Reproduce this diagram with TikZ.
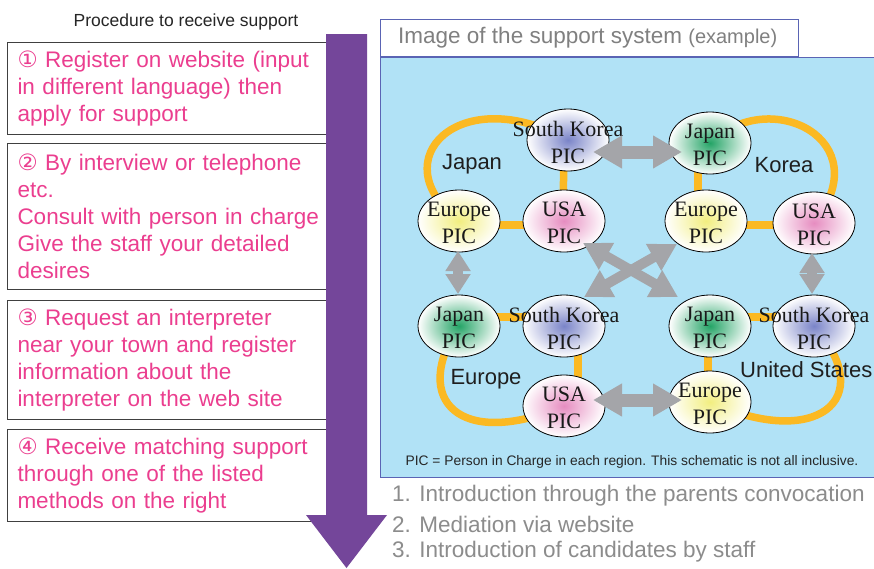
\documentclass[tikz,border=0pt]{standalone}
\usepackage{fontspec}
\setmainfont{Liberation Sans}
\newfontfamily\serifpic{Liberation Serif}
\newfontfamily\symfont{DejaVu Sans}
\usetikzlibrary{shapes.geometric,arrows.meta,calc}
\definecolor{pinktxt}{HTML}{EB3E8F}
\definecolor{purplearr}{HTML}{74469A}
\definecolor{panelblue}{HTML}{B1E2F6}
\definecolor{panelline}{HTML}{5A64B4}
\definecolor{titlegray}{HTML}{808080}
\definecolor{listgray}{HTML}{8C8C8C}
\definecolor{loopgold}{HTML}{FBB923}
\definecolor{arrgray}{HTML}{A4A5A9}
\definecolor{cblue}{HTML}{7A84C8}
\definecolor{cgreen}{HTML}{24A466}
\definecolor{cyellow}{HTML}{F2EE80}
\definecolor{cpink}{HTML}{E68CC0}
\pgfdeclarelayer{panel}
\pgfdeclarelayer{loops}
\pgfsetlayers{panel,loops,main}
\newcommand\circnum[1]{{\symfont #1}}
\newcommand\picnode[5]{%
  \node[picell, inner color=#4] (#1) at (#2,#3) {};
  \node[pictext] (#1t) at ($(#1.center)+(0,2)$) {#5\\PIC};}
\begin{document}
\begin{tikzpicture}[x=1pt,y=-1pt,
  stepbox/.style={draw=black!75, line width=1pt, fill=white, anchor=north west,
    text width=303pt, inner xsep=10pt, inner ysep=0pt, align=left, text=pinktxt,
    font=\fontsize{22.5}{27}\selectfont},
  picell/.style={ellipse, draw=black, line width=0.8pt, minimum width=82pt,
    minimum height=62pt, inner sep=0pt, outer color=white},
  pictext/.style={font=\serifpic\fontsize{22}{27}\selectfont, align=center,
    inner sep=0pt, text=black!90},
  region/.style={font=\fontsize{22}{26}\selectfont, text=black!88, inner sep=0pt},
  loopline/.style={draw=loopgold, line width=7.5pt},
  gbig/.style={draw=arrgray, line width=13pt,
    arrows={Triangle[width=31pt,length=29pt]-Triangle[width=31pt,length=29pt]}},
  gmid/.style={draw=arrgray, line width=10pt,
    arrows={Triangle[width=29pt,length=27pt]-Triangle[width=29pt,length=27pt]}},
  gsmall/.style={draw=arrgray, line width=10pt,
    arrows={Triangle[width=24pt,length=20pt]-Triangle[width=24pt,length=20pt]}},
  listtext/.style={anchor=west, text=listgray, inner sep=0pt,
    font=\fontsize{22.5}{27}\selectfont}]
\useasboundingbox (0,0) rectangle (874,568);
\begin{pgfonlayer}{panel}
  \fill[white] (0,0) rectangle (874,568);
  \fill[panelblue] (380,57) rectangle (874,477);
  \draw[panelline, line width=1pt] (875,57) -- (380,57) -- (380,477) -- (875,477);
\end{pgfonlayer}

% heading
\node[font=\fontsize{17.5}{21}\selectfont, text=black!85, inner sep=0pt] (head) at (186,22) {Procedure to receive support};

% left boxes
\node[stepbox, minimum height=92pt] (box1) at (7,42)
  {\circnum{①} Register on website (input\\in different language) then\\apply for support};
\node[stepbox, minimum height=146pt] (box2) at (7,143)
  {\circnum{②} By interview or telephone\\etc.\\Consult with person in charge\\Give the staff your detailed\\desires};
\node[stepbox, minimum height=119pt] (box3) at (7,300)
  {\circnum{③} Request an interpreter\\near your town and register\\information about the\\interpreter on the web site};
\node[stepbox, minimum height=92pt] (box4) at (7,429)
  {\circnum{④} Receive matching support\\through one of the listed\\methods on the right};

% purple arrow
\fill[purplearr] (326,34) -- (367,34) -- (367,515) -- (387,515) -- (346.5,568) -- (306,515) -- (326,515) -- cycle;

% title box
\node[draw=panelline, line width=0.8pt, fill=white, anchor=north west, minimum width=418pt,
  minimum height=37pt, inner sep=0pt] (title) at (380,19) {};
\node[anchor=west, text=titlegray, inner sep=0pt] (titletext) at (398,38)
  {\fontsize{22.5}{26}\selectfont Image of the support system \fontsize{20}{22}\selectfont(example)};

% ellipses
\picnode{sk1}{568}{140}{cblue}{South Korea}
\picnode{jp2}{710}{143}{cgreen}{Japan}
\picnode{eu1}{459}{221}{cyellow}{Europe}
\picnode{usa1}{564}{221}{cpink}{USA}
\picnode{eu2}{706}{221}{cyellow}{Europe}
\picnode{usa2}{814}{223}{cpink}{USA}
\picnode{jp3}{459}{326}{cgreen}{Japan}
\picnode{sk3}{564}{326}{cblue}{South Korea}
\picnode{usa3}{564}{406}{cpink}{USA}
\picnode{jp4}{710}{326}{cgreen}{Japan}
\picnode{sk4}{814}{326}{cblue}{South Korea}
\picnode{eu4}{710}{402}{cyellow}{Europe}

% orange loops
\begin{pgfonlayer}{loops}
  \draw[loopline] (eu1.center) .. controls (380,160) and (460,80) .. (sk1.center);
  \draw[loopline] ($(sk1.center)+(-4,0)$) -- ($(usa1.center)+(-1,0)$);
  \draw[loopline] ($(eu1.center)+(0,4)$) -- ($(usa1.center)+(0,4)$);
  \draw[loopline] (jp2.center) .. controls (770,85) and (880,140) .. (usa2.center);
  \draw[loopline] ($(jp2.center)+(-12,0)$) -- ($(eu2.center)+(-8,0)$);
  \draw[loopline] ($(eu2.center)+(0,4)$) -- ($(usa2.center)+(0,2)$);
  \draw[loopline] (jp3.center) .. controls (410,400) and (460,450) .. (usa3.center);
  \draw[loopline] ($(jp3.center)+(0,-9)$) -- ($(sk3.center)+(0,-9)$);
  \draw[loopline] ($(sk3.center)+(14,0)$) -- ($(usa3.center)+(14,0)$);
  \draw[loopline] (sk4.center) .. controls (880,400) and (815,450) .. (eu4.center);
  \draw[loopline] ($(jp4.center)+(0,-9)$) -- ($(sk4.center)+(0,-9)$);
  \draw[loopline] ($(jp4.center)+(-2,0)$) -- ($(eu4.center)+(-2,0)$);
\end{pgfonlayer}

% region labels
\node[region] (lbljapan) at (472,164) {Japan};
\node[region] (lblkorea) at (784,165) {Korea};
\node[region] (lbleurope) at (486,379) {Europe};
\node[region, anchor=west] (lblus) at (740,370) {United States};

% gray double arrows
\draw[gbig] ($(sk1.center)+(25,12)$) -- ($(jp2.center)+(-28,9)$);
\draw[gbig] ($(usa3.center)+(29,-6)$) -- ($(eu4.center)+(-28,-2)$);
\draw[gsmall] ($(eu1.center)+(-1,30)$) -- ($(jp3.center)+(-1,-32)$);
\draw[gsmall] ($(usa2.center)+(-2,30)$) -- ($(sk4.center)+(-2,-32)$);
\draw[gmid] ($(usa1.center)+(19,22)$) -- ($(jp4.center)+(-32,-29)$);
\draw[gmid] ($(eu2.center)+(-29,23)$) -- ($(sk3.center)+(20,-29)$);

% footnote
\node[font=\fontsize{13.8}{16}\selectfont, text=black!85, inner sep=0pt] (foot) at (632,462)
  {PIC = Person in Charge in each region. This schematic is not all inclusive.};

% list
\node[listtext] (m1) at (392,496) {1. Introduction through the parents convocation};
\node[listtext] (m2) at (392,524) {2. Mediation via website};
\node[listtext] (m3) at (392,552) {3. Introduction of candidates by staff};
\end{tikzpicture}
\end{document}
